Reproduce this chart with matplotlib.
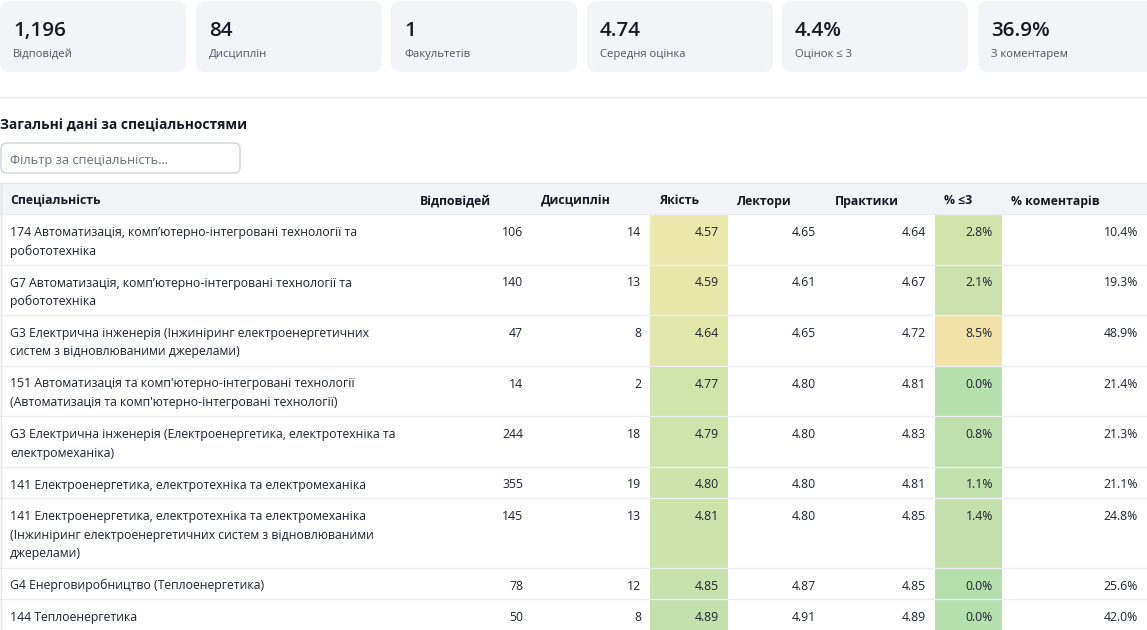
import matplotlib
matplotlib.use("Agg")
import matplotlib.pyplot as plt
from matplotlib.patches import FancyBboxPatch, Rectangle
from matplotlib.colors import LinearSegmentedColormap, Normalize

plt.rcParams['font.family'] = ['Open Sans', 'DejaVu Sans']

# summary cards
card_values = ["1,196", "84", "1", "4.74", "4.4%", "36.9%"]
card_labels = ["Відповідей", "Дисциплін", "Факультетів", "Середня оцінка", "Оцінок ≤ 3", "З коментарем"]

# table
headers = ["Спеціальність", "Відповідей", "Дисциплін", "Якість", "Лектори", "Практики", "% ≤3", "% коментарів"]
specialties = [
    "174 Автоматизація, комп’ютерно-інтегровані технології та\nробототехніка",
    "G7 Автоматизація, комп’ютерно-інтегровані технології та\nробототехніка",
    "G3 Електрична інженерія (Інжиніринг електроенергетичних\nсистем з відновлюваними джерелами)",
    "151 Автоматизація та комп'ютерно-інтегровані технології\n(Автоматизація та комп'ютерно-інтегровані технології)",
    "G3 Електрична інженерія (Електроенергетика, електротехніка та\nелектромеханіка)",
    "141 Електроенергетика, електротехніка та електромеханіка",
    "141 Електроенергетика, електротехніка та електромеханіка\n(Інжиніринг електроенергетичних систем з відновлюваними\nджерелами)",
    "G4 Енерговиробництво (Теплоенергетика)",
    "144 Теплоенергетика",
]
responses = [106, 140, 47, 14, 244, 355, 145, 78, 50]
disciplines = [14, 13, 8, 2, 18, 19, 13, 12, 8]
quality = [4.57, 4.59, 4.64, 4.77, 4.79, 4.80, 4.81, 4.85, 4.89]
lecturers = [4.65, 4.61, 4.65, 4.80, 4.80, 4.80, 4.80, 4.87, 4.91]
practice = [4.64, 4.67, 4.72, 4.81, 4.83, 4.81, 4.85, 4.85, 4.89]
low_pct = [2.8, 2.1, 8.5, 0.0, 0.8, 1.1, 1.4, 0.0, 0.0]
comment_pct = [10.4, 19.3, 48.9, 21.4, 21.3, 21.1, 24.8, 25.6, 42.0]

W, H = 1147, 630
PX = 0.72  # px -> pt at dpi 100

cmap = LinearSegmentedColormap.from_list("rg", [(0, "#b6dfae"), (0.45, "#ece8aa"), (1.0, "#f8dba6")])
q_norm = Normalize(0, 1.0)   # on (5 - score)
p_norm = Normalize(0, 12.0)  # on percent

fig = plt.figure(figsize=(W / 100, H / 100), dpi=100)
ax = fig.add_axes([0, 0, 1, 1])
ax.set_xlim(0, W)
ax.set_ylim(H, 0)
ax.axis('off')

# cards
card_x = [0, 196, 391, 587, 782, 978]
for x, v, l in zip(card_x, card_values, card_labels):
    ax.add_patch(FancyBboxPatch((x, 1), 186, 71, boxstyle="round,pad=0,rounding_size=10",
                                fc="#f3f4f8", ec="none"))
    ax.text(x + 13, 36, v, fontsize=20.5 * PX, fontweight='semibold', color="#151923", va='baseline')
    ax.text(x + 13, 57, l, fontsize=11.3 * PX, color="#4f5564", va='baseline')

ax.plot([0, W], [97, 97], color="#e6e8ec", lw=1)

ax.text(0, 130, "Загальні дані за спеціальностями", fontsize=13.7 * PX, fontweight='bold',
        color="#151923", va='baseline')

ax.add_patch(FancyBboxPatch((1, 143), 239, 30, boxstyle="round,pad=0,rounding_size=6",
                            fc="white", ec="#cfd3dc", lw=1))
ax.text(10, 164, "Фільтр за спеціальність...", fontsize=12.7 * PX, color="#6b6f7a", va='baseline')

# table geometry
col_left = [0, 411, 532, 650, 728, 826, 935, 1002]
col_right = [411, 532, 650, 728, 826, 935, 1002, W]
head_top, head_bot = 183, 214
fs = 12.3 * PX
ax.add_patch(Rectangle((0, head_top), W, head_bot - head_top, fc="#f3f4f8", ec="none"))
for x, h in zip(col_left, headers):
    ax.text(x + 9 if x else 10, 204.5, h, fontsize=fs, fontweight='bold', color="#151923",
            va='baseline')

y = head_bot
row_lines = [y]
for i, name in enumerate(specialties):
    lines = name.split("\n")
    h = 12.5 + 19 * len(lines)
    ax.add_patch(Rectangle((col_left[3], y), col_right[3] - col_left[3], h,
                           fc=cmap(q_norm(5 - quality[i])), ec="none"))
    ax.add_patch(Rectangle((col_left[6], y), col_right[6] - col_left[6], h,
                           fc=cmap(p_norm(low_pct[i])), ec="none"))
    base = y + 22
    for k, line in enumerate(lines):
        ax.text(10, base + 18.5 * k, line, fontsize=fs, color="#1f2330", va='baseline')
    vals = [str(responses[i]), str(disciplines[i]), f"{quality[i]:.2f}", f"{lecturers[i]:.2f}",
            f"{practice[i]:.2f}", f"{low_pct[i]:.1f}%", f"{comment_pct[i]:.1f}%"]
    for c, v in enumerate(vals, start=1):
        ax.text(col_right[c] - 9 - (1 if c == 4 else 0), base, v, fontsize=fs, color="#1f2330",
                ha='right', va='baseline')
    y += h
    row_lines.append(y)

for ry in row_lines:
    ax.plot([0, W], [ry, ry], color="#eceef2", lw=1)
ax.plot([0, W], [182.5, 182.5], color="#e3e5ea", lw=1)
ax.plot([0.5, 0.5], [182.5, H], color="#e3e5ea", lw=1)

fig.savefig("out.png", dpi=100)
